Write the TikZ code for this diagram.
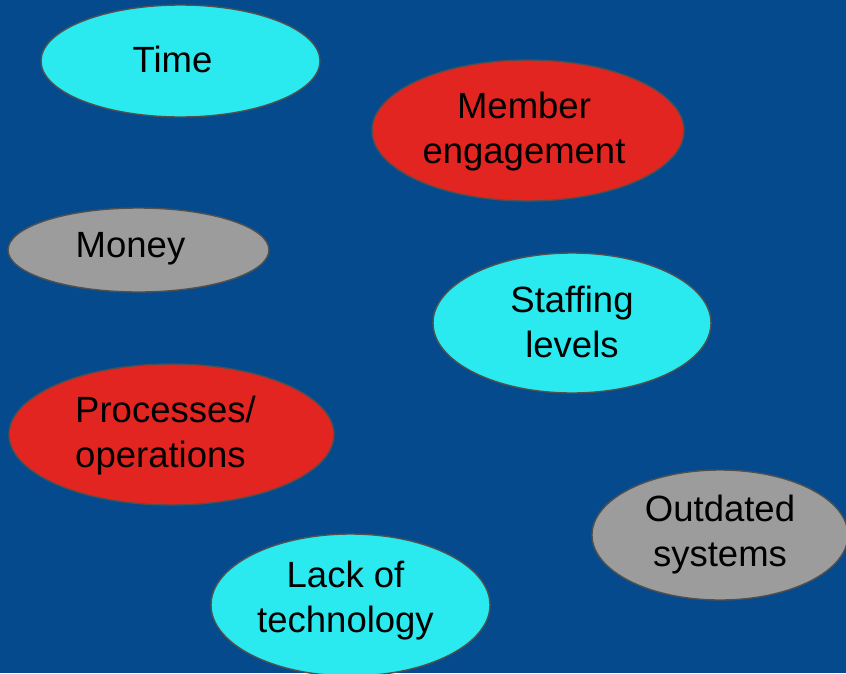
\documentclass[tikz,border=0pt]{standalone}
\usepackage{fontspec}
\setmainfont{Liberation Sans}
\usetikzlibrary{shapes.geometric}
\definecolor{bgblue}{HTML}{044A8C}
\definecolor{cyanfill}{HTML}{2AE9EF}
\definecolor{redfill}{HTML}{E32522}
\definecolor{grayfill}{HTML}{9C9C9C}
\definecolor{rimgray}{HTML}{505050}
\tikzset{
  bubble/.style={ellipse, draw=rimgray, line width=1.4pt, inner sep=0pt},
  txt/.style={font=\fontsize{36.5}{45}\selectfont, text=black, align=center, inner sep=0pt}
}
\begin{document}
\begin{tikzpicture}[x=1pt,y=-1pt]
  \path[fill=bgblue] (0,0) rectangle (846,673);
  \useasboundingbox (0,0) rectangle (846,673);
  \begin{scope}
    \clip (0,0) rectangle (846,673);
    % ellipses
    \node[bubble, fill=cyanfill, minimum width=279pt, minimum height=112pt] (time) at (180.5,61) {};
    \node[bubble, fill=redfill, minimum width=312pt, minimum height=141pt] (member) at (528,130.5) {};
    \node[bubble, fill=grayfill, minimum width=261pt, minimum height=84pt] (money) at (138.5,250) {};
    \node[bubble, fill=cyanfill, minimum width=278pt, minimum height=140pt] (staff) at (572,323) {};
    \node[bubble, fill=redfill, minimum width=325pt, minimum height=141pt] (proc) at (171.5,434.5) {};
    \node[bubble, fill=grayfill, minimum width=256pt, minimum height=130pt] (outd) at (720,535) {};
    \node[bubble, fill=cyanfill, minimum width=279pt, minimum height=142pt] (lack) at (350.5,605) {};
    % labels
    \node[txt] (timet) at ([xshift=-8pt,yshift=2pt]time.center) {Time};
    \node[txt] (membert) at ([xshift=-4pt,yshift=-1pt]member.center) {Member\\engagement};
    \node[txt] (moneyt) at ([xshift=-8pt,yshift=1pt]money.center) {Money};
    \node[txt] (stafft) at ([yshift=1pt]staff.center) {Staffing\\levels};
    \node[txt, align=left] (proct) at ([xshift=-6pt,yshift=-1pt]proc.center) {Processes/\\operations};
    \node[txt] (outdt) at (outd.center) {Outdated\\systems};
    \node[txt] (lackt) at ([xshift=-5pt,yshift=4pt]lack.center) {Lack of\\technology};
  \end{scope}
\end{tikzpicture}
\end{document}
